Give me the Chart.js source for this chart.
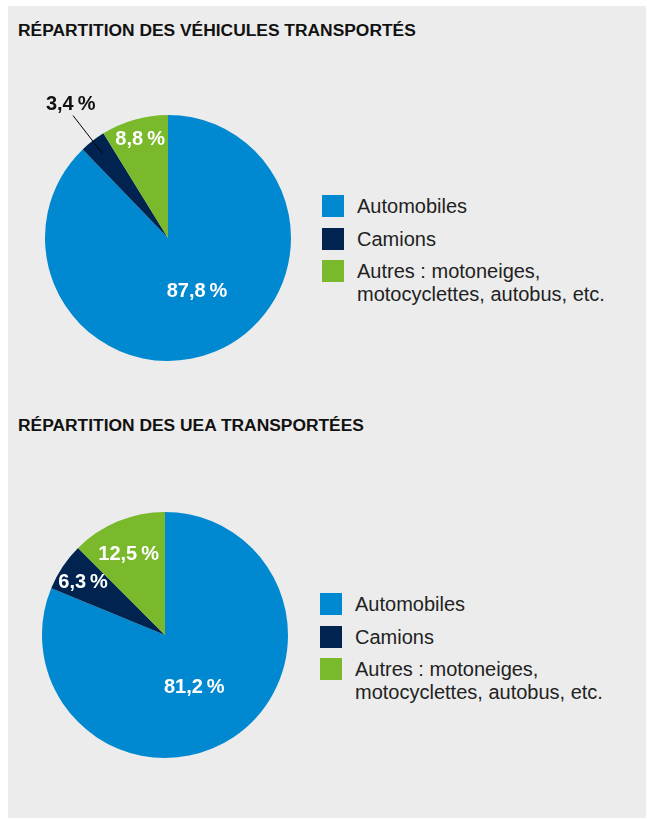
<!DOCTYPE html>
<html lang="fr">
<head>
<meta charset="utf-8">
<script src="https://cdn.jsdelivr.net/npm/chart.js@4.4.1/dist/chart.umd.min.js"></script>
<style>
  body { margin: 0; background: #fff; font-family: "Liberation Sans", Arial, sans-serif; }
  #panel { position: absolute; left: 8px; top: 6px; width: 638px; height: 812px; background: #ececec; }
  h2 { position: absolute; left: 10px; margin: 0; font-size: 17.4px; line-height: 18px; font-weight: bold; color: #111; }
  canvas { position: absolute; }
  .legend { position: absolute; }
  .item { position: relative; height: 32.5px; }
  .box { position: absolute; left: 0; top: 0; width: 22px; height: 22px; }
  .txt { position: absolute; left: 35px; top: 0; font-size: 20px; line-height: 23px; color: #222; white-space: pre; }
</style>
</head>
<body>
<div id="panel">
  <h2 style="top:15px">RÉPARTITION DES VÉHICULES TRANSPORTÉS</h2>
  <canvas id="vehicules" width="300" height="300" style="left:10px; top:82px"></canvas>
  <div class="legend" id="legend1" style="left:314px; top:189px"></div>

  <h2 style="top:410px">RÉPARTITION DES UEA TRANSPORTÉES</h2>
  <canvas id="uea" width="300" height="300" style="left:7px; top:479px"></canvas>
  <div class="legend" id="legend2" style="left:312px; top:587px"></div>
</div>
<script>
const categories = ['Automobiles', 'Camions', 'Autres : motoneiges,\nmotocyclettes, autobus, etc.'];
const vehiculesPct = [87.8, 3.4, 8.8];
const ueaPct = [81.2, 6.3, 12.5];
const colors = ['#0089d0', '#00244f', '#7ab92b'];

function fmt(v) {
    return v.toFixed(1).replace('.', ',') + '\u2009%'
}

// labels inside the slices, plus one callout for the small slice
const sliceLabels = {
    id: 'sliceLabels',
    afterDatasetsDraw(chart, args, opts) {
        const ctx = chart.ctx
        const meta = chart.getDatasetMeta(0)
        const values = chart.data.datasets[0].data
        ctx.save()
        ctx.font = 'bold 20px "Liberation Sans", Arial, sans-serif'
        ctx.textAlign = 'center'
        ctx.textBaseline = 'middle'
        meta.data.forEach((arc, i) => {
            const mid = (arc.startAngle + arc.endAngle) / 2
            const r = arc.outerRadius
            const cx = Math.cos(mid), cy = Math.sin(mid)
            const c = opts.callout
            if (c && c.index === i) {
                ctx.strokeStyle = '#000'
                ctx.lineWidth = 1
                ctx.beginPath()
                ctx.moveTo(arc.x + cx * r * c.from, arc.y + cy * r * c.from)
                ctx.lineTo(arc.x + cx * r * c.to, arc.y + cy * r * c.to)
                ctx.stroke()
                ctx.fillStyle = '#111'
                ctx.fillText(fmt(values[i]), arc.x + cx * r * c.text + c.dx, arc.y + cy * r * c.text)
            } else {
                const f = opts.radius[i]
                const [ox, oy] = opts.shift[i]
                ctx.fillStyle = '#fff'
                ctx.fillText(fmt(values[i]), arc.x + cx * r * f + ox, arc.y + cy * r * f + oy)
            }
        })
        ctx.restore()
    }
}

function makePie(canvas, values, labelOpts) {
    return new Chart(canvas, {
        type: 'pie',
        data: {
            labels: categories,
            datasets: [{
                data: values,
                backgroundColor: colors,
                borderWidth: 0
            }]
        },
        options: {
            responsive: false,
            animation: false,
            events: [],
            layout: { padding: 27 },
            plugins: {
                legend: { display: false },
                tooltip: { enabled: false },
                sliceLabels: labelOpts
            }
        },
        plugins: [sliceLabels]
    })
}

function makeLegend(el) {
    categories.forEach((name, i) => {
        const item = document.createElement('div')
        item.className = 'item'
        item.innerHTML = '<div class="box" style="background:' + colors[i] + '"></div>'
        const t = document.createElement('div')
        t.className = 'txt'
        t.textContent = name
        item.appendChild(t)
        el.appendChild(item)
    })
}

makePie(document.getElementById('vehicules'), vehiculesPct, {
    radius: [0.5, 0.8, 0.83],
    shift: [[6, -4], [0, 0], [0, 0]],
    callout: { index: 1, from: 0.87, to: 1.26, text: 1.37, dx: 6 }
})
makePie(document.getElementById('uea'), ueaPct, {
    radius: [0.5, 0.8, 0.73],
    shift: [[-5, 1], [0, 2], [-2, 2]]
})
makeLegend(document.getElementById('legend1'))
makeLegend(document.getElementById('legend2'))
</script>
</body>
</html>
